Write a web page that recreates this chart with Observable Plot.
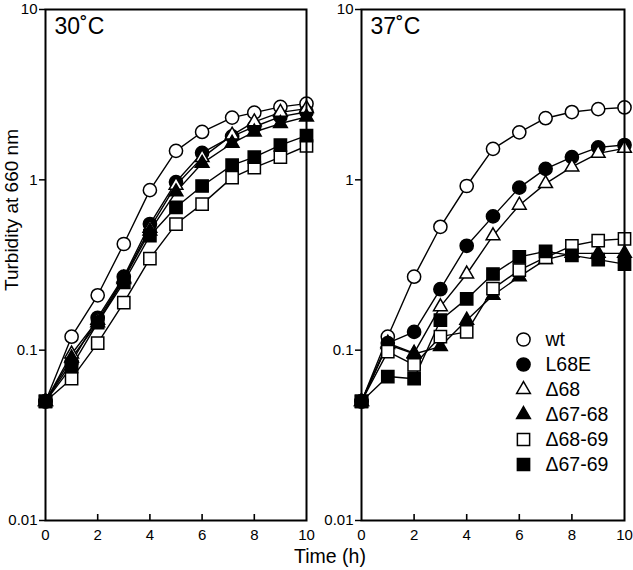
<!DOCTYPE html>
<html>
<head>
<meta charset="utf-8">
<script src="https://cdn.jsdelivr.net/npm/d3@7"></script>
<script src="https://cdn.jsdelivr.net/npm/@observablehq/plot@0.6"></script>
<style>
  html, body { margin: 0; padding: 0; background: white; }
  #fig { position: relative; width: 633px; height: 570px; font-family: "Liberation Sans", Arial, sans-serif; color: black; }
  #fig > div.panel { position: absolute; top: 0; }
  .lbl { position: absolute; white-space: nowrap; }
</style>
</head>
<body>
<div id="fig"></div>
<script>
// ---------- data ----------
const seriesNames = ["wt", "L68E", "\u039468", "\u039467-68", "\u039468-69", "\u039467-69"];
const panelTitles = ["30\u02DAC", "37\u02DAC"];
const timesLeft  = [0, 1, 2, 3, 4, 5, 6, 7.15, 8, 9, 10];
const timesRight = [0, 1, 2, 3, 4, 5, 6, 7, 8, 9, 10];

// 30 °C panel
const wt30     = [0.05, 0.12, 0.21, 0.42, 0.87, 1.48, 1.91, 2.32, 2.48, 2.68, 2.80];
const L68E30   = [0.05, 0.085, 0.155, 0.27, 0.55, 0.97, 1.44, 1.80, 2.05, 2.35, 2.50];
const d68_30   = [0.05, 0.095, 0.15, 0.265, 0.52, 0.93, 1.35, 1.83, 2.19, 2.49, 2.62];
const d6768_30 = [0.05, 0.09, 0.145, 0.26, 0.50, 0.85, 1.25, 1.64, 1.91, 2.14, 2.34];
const d6869_30 = [0.05, 0.068, 0.11, 0.19, 0.345, 0.55, 0.72, 1.03, 1.18, 1.36, 1.58];
const d6769_30 = [0.05, 0.08, 0.145, 0.25, 0.47, 0.69, 0.92, 1.22, 1.36, 1.60, 1.82];

// 37 °C panel
const wt37     = [0.05, 0.12, 0.27, 0.53, 0.92, 1.52, 1.90, 2.30, 2.50, 2.60, 2.66];
const L68E37   = [0.05, 0.11, 0.128, 0.228, 0.41, 0.61, 0.90, 1.16, 1.36, 1.55, 1.60];
const d68_37   = [0.05, 0.11, 0.096, 0.18, 0.28, 0.47, 0.71, 0.95, 1.19, 1.43, 1.53];
const d6768_37 = [0.05, 0.108, 0.095, 0.105, 0.15, 0.21, 0.27, 0.34, 0.37, 0.37, 0.37];
const d6869_37 = [0.05, 0.098, 0.082, 0.12, 0.128, 0.23, 0.295, 0.35, 0.41, 0.44, 0.45];
const d6769_37 = [0.05, 0.07, 0.068, 0.15, 0.20, 0.28, 0.353, 0.38, 0.36, 0.34, 0.32];

const yTicks = [0.01, 0.1, 1, 10];
const xTicks = [0, 2, 4, 6, 8, 10];
const xInnerTicks = [2, 4, 6, 8];

// ---------- styling (not data) ----------
const styles = {
  "wt":            {symbol: "circle",   fill: "white", r: 6.6},
  "L68E":          {symbol: "circle",   fill: "black", r: 6.6},
  "\u039468":      {symbol: "triangle", fill: "white", r: 5.1},
  "\u039467-68":   {symbol: "triangle", fill: "black", r: 5.1},
  "\u039468-69":   {symbol: "square",   fill: "white", r: 6.9},
  "\u039467-69":   {symbol: "square",   fill: "black", r: 6.9}
};

const panels = [
  {title: panelTitles[0], times: timesLeft,  values: [wt30, L68E30, d68_30, d6768_30, d6869_30, d6769_30], left: 0,   width: 316, mr: 10},
  {title: panelTitles[1], times: timesRight, values: [wt37, L68E37, d68_37, d6768_37, d6869_37, d6769_37], left: 316, width: 317, mr: 9}
];

const H = 570, MT = 9, MB = 50, ML = 45;
const fig = document.getElementById("fig");

for (const p of panels) {
  const marks = [];
  const data = seriesNames.map((s, k) => p.values[k].map((v, i) => ({t: p.times[i], v, s})));
  data.forEach(rows => marks.push(Plot.line(rows, {x: "t", y: "v", stroke: "black", strokeWidth: 1.4})));
  data.forEach((rows, k) => {
    const st = styles[seriesNames[k]];
    marks.push(Plot.dot(rows, {x: "t", y: "v", symbol: st.symbol, r: st.r, fill: st.fill, stroke: "black", strokeWidth: 1.5}));
  });
  marks.push(Plot.frame({stroke: "black", strokeWidth: 2}));
  marks.push(Plot.axisY({ticks: yTicks, tickFormat: d => String(d), tickSize: 6, tickPadding: 2, fontSize: 15, label: null, strokeWidth: 1.5}));
  marks.push(Plot.axisX({ticks: xTicks, tickFormat: d => String(d), tickSize: 0, tickPadding: 9, fontSize: 15, label: null}));
  marks.push(Plot.ruleX(xInnerTicks, {stroke: "black", strokeWidth: 1.6, insetTop: H - MT - MB - 6}));
  marks.push(Plot.text([p.title], {frameAnchor: "top-left", dx: 9, dy: 8, textAnchor: "start", lineAnchor: "top", fontSize: 23}));

  const svg = Plot.plot({
    width: p.width, height: H,
    marginTop: MT, marginBottom: MB, marginLeft: ML, marginRight: p.mr,
    style: {fontFamily: "Liberation Sans, Arial, sans-serif", color: "black", background: "transparent", overflow: "visible"},
    x: {domain: [0, 10]},
    y: {type: "log", domain: [0.01, 10]},
    marks
  });
  const wrap = document.createElement("div");
  wrap.className = "panel";
  wrap.style.left = p.left + "px";
  wrap.appendChild(svg);
  fig.appendChild(wrap);
}

// legend (inside 37 °C panel)
const legend = Plot.plot({
  width: 120, height: 190, margin: 0,
  style: {fontFamily: "Liberation Sans, Arial, sans-serif", color: "black", background: "transparent", overflow: "visible"},
  x: {domain: [0, 1], axis: null},
  y: {type: "point", domain: seriesNames, range: [20, 173], axis: null},
  marks: [
    ...seriesNames.map(s => Plot.dot([s], {y: d => d, frameAnchor: "left", dx: 18, symbol: styles[s].symbol, r: styles[s].r, fill: styles[s].fill, stroke: "black", strokeWidth: 1.5})),
    Plot.text(seriesNames, {y: d => d, text: d => d, frameAnchor: "left", dx: 40, textAnchor: "start", fontSize: 19.5})
  ]
});
const lw = document.createElement("div");
lw.className = "panel";
lw.style.left = "505px"; lw.style.top = "305px";
lw.appendChild(legend);
fig.appendChild(lw);

// axis titles
const yl = document.createElement("div");
yl.className = "lbl";
yl.textContent = "Turbidity at 660 nm";
yl.style.fontSize = "19px";
yl.style.left = "12px"; yl.style.top = "210px";
yl.style.transform = "translate(-50%, -50%) rotate(-90deg)";
fig.appendChild(yl);

const xl = document.createElement("div");
xl.className = "lbl";
xl.textContent = "Time (h)";
xl.style.fontSize = "19.5px";
xl.style.left = "330px"; xl.style.top = "556px";
xl.style.transform = "translate(-50%, -50%)";
fig.appendChild(xl);
</script>
</body>
</html>
